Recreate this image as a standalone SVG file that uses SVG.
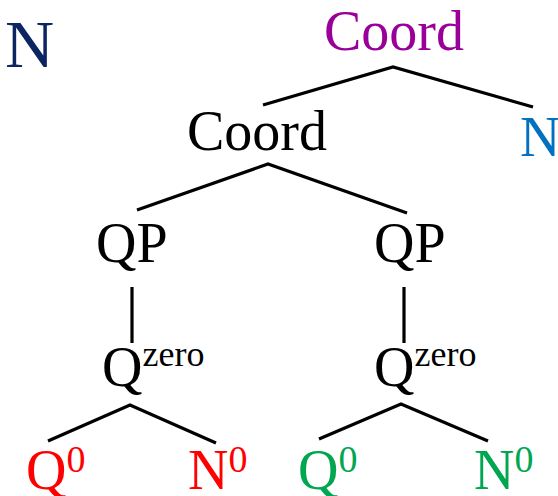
<svg xmlns="http://www.w3.org/2000/svg" width="558" height="496" viewBox="0 0 558 496">
  <style>
    text { font-family: "Liberation Serif", "Times New Roman", serif; font-size: 56px; }
    .big { font-size: 68px; }
    .sup { font-size: 36px; }
    .sup0 { font-size: 38px; }
    .edge { stroke: #000; stroke-width: 3.2; fill: none; stroke-linecap: butt; }
  </style>
  <rect width="558" height="496" fill="#fff"/>

  <g id="connectors">
    <polyline class="edge" points="263,105 393,67 533,107"/>
    <polyline class="edge" points="137,210 268,164 407,213"/>
    <line class="edge" x1="132" y1="287" x2="132" y2="343"/>
    <line class="edge" x1="404" y1="287" x2="404" y2="343"/>
    <polyline class="edge" points="48,441 130,405 216,443"/>
    <polyline class="edge" points="319,439 401,404 488,441"/>
  </g>

  <g id="label-N"><text class="big" x="5" y="67" fill="#0c2461">N</text></g>
  <g id="coord-top"><text x="324" y="50" fill="#990099">Coord</text></g>
  <g id="coord"><text x="187" y="150" fill="#000">Coord</text></g>
  <g id="n-right"><text x="520" y="156" fill="#0070c0">N</text></g>
  <g id="qp-left"><text x="96" y="262">QP</text></g>
  <g id="qp-right"><text x="374" y="262">QP</text></g>
  <g id="qzero-left"><text x="102" y="386">Q<tspan class="sup" dy="-20">zero</tspan></text></g>
  <g id="qzero-right"><text x="374" y="386">Q<tspan class="sup" dy="-20">zero</tspan></text></g>
  <g id="q0-red"><text x="26" y="489" fill="#ff0000">Q<tspan class="sup0" dy="-17">0</tspan></text></g>
  <g id="n0-red"><text x="188" y="489" fill="#ff0000">N<tspan class="sup0" dy="-17">0</tspan></text></g>
  <g id="q0-green"><text x="298" y="489" fill="#00a650">Q<tspan class="sup0" dy="-17">0</tspan></text></g>
  <g id="n0-green"><text x="474" y="489" fill="#00a650">N<tspan class="sup0" dy="-17">0</tspan></text></g>
</svg>
